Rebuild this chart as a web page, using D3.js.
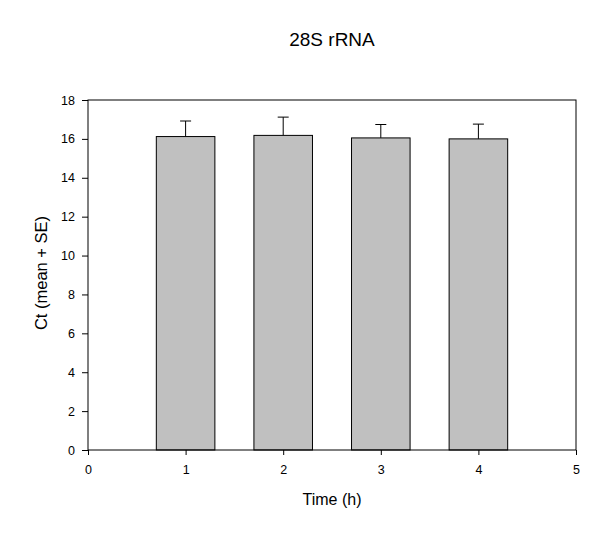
<!DOCTYPE html>
<html><head><meta charset="utf-8">
<script src="https://cdn.jsdelivr.net/npm/d3@7"></script>
<style>body{margin:0;background:#fff;} text{font-family:"Liberation Sans",Arial,sans-serif;}</style>
</head><body>
<svg id="c" width="600" height="539"></svg>
<script>
const times = [1, 2, 3, 4];
const means = [16.12, 16.18, 16.05, 16.0];
const upper = [16.92, 17.12, 16.74, 16.76];
const xTicks = [0, 1, 2, 3, 4, 5];
const yTicks = [0, 2, 4, 6, 8, 10, 12, 14, 16, 18];

const svg = d3.select("#c");
const m = {l: 88, r: 24, t: 100, b: 89};
const W = 600, H = 539;
const x = d3.scaleLinear().domain([0, 5]).range([m.l, W - m.r]);
const y = d3.scaleLinear().domain([0, 18]).range([H - m.b, m.t]);
const bw = x(0.6) - x(0);
const FF = '"Liberation Sans",Arial,sans-serif';

const g = svg.append("g");
g.selectAll("line.err").data(times).join("line")
  .attr("x1", d => x(d)).attr("x2", d => x(d))
  .attr("y1", (d, i) => y(means[i])).attr("y2", (d, i) => y(upper[i]))
  .attr("stroke", "#000").attr("stroke-width", 1);
g.selectAll("line.cap").data(times).join("line")
  .attr("x1", d => x(d) - 5.5).attr("x2", d => x(d) + 5.5)
  .attr("y1", (d, i) => y(upper[i])).attr("y2", (d, i) => y(upper[i]))
  .attr("stroke", "#000").attr("stroke-width", 1);
g.selectAll("rect").data(times).join("rect")
  .attr("x", d => x(d) - bw / 2).attr("width", bw)
  .attr("y", (d, i) => y(means[i])).attr("height", (d, i) => y(0) - y(means[i]))
  .attr("fill", "#c0c0c0").attr("stroke", "#000").attr("stroke-width", 1);

// frame
svg.append("rect").attr("x", x(0)).attr("y", y(18)).attr("width", x(5) - x(0)).attr("height", y(0) - y(18))
  .attr("fill", "none").attr("stroke", "#000").attr("stroke-width", 1);

const xa = svg.append("g").attr("transform", `translate(0,${y(0)})`)
  .call(d3.axisBottom(x).tickValues(xTicks).tickFormat(d3.format("d")).tickSize(5).tickPadding(10));
const ya = svg.append("g").attr("transform", `translate(${x(0)},0)`)
  .call(d3.axisLeft(y).tickValues(yTicks).tickFormat(d3.format("d")).tickSize(6).tickPadding(7));
[xa, ya].forEach(a => {
  a.attr("font-size", 12.5).attr("font-family", FF);
  a.select(".domain").remove();
  a.selectAll("text").attr("fill", "#000");
  a.selectAll("line").attr("stroke", "#000");
});

svg.append("text").attr("x", 332).attr("y", 46).attr("text-anchor", "middle").attr("font-size", 19).text("28S rRNA");
svg.append("text").attr("x", 332).attr("y", 505).attr("text-anchor", "middle").attr("font-size", 16).text("Time (h)");
svg.append("text").attr("transform", `translate(47,${(y(0) + y(18)) / 2 - 2}) rotate(-90)`)
  .attr("text-anchor", "middle").attr("font-size", 16.5).text("Ct (mean + SE)");
</script>
</body></html>
